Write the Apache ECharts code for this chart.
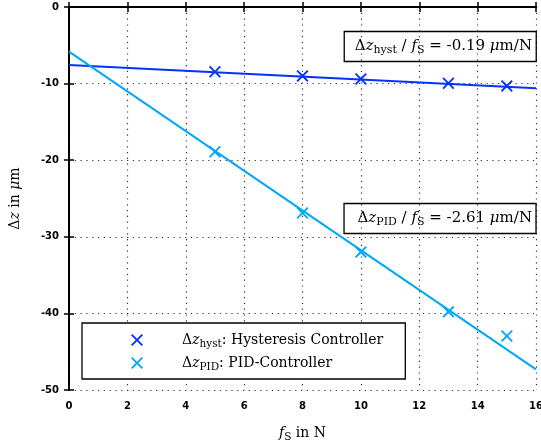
<!DOCTYPE html>
<html>
<head>
<meta charset="utf-8">
<script src="https://cdn.jsdelivr.net/npm/echarts@6/dist/echarts.min.js"></script>
<style>html,body{margin:0;padding:0;background:#fff;}#c{width:541px;height:444px;}</style>
</head>
<body>
<div id="c"></div>
<script>
// ---- data ----
var forceValues = [5, 8, 10, 13, 15];               // f_S in N
var hystValues  = [-8.45, -9.0, -9.4, -9.96, -10.3]; // Δz_hyst in µm
var pidValues   = [-18.9, -26.9, -32.0, -39.8, -42.95]; // Δz_PID in µm
var fitX        = [0, 16];
var hystFit     = [-7.57, -10.6];
var pidFit      = [-5.83, -47.3];
var hystSlope   = '-0.19';
var pidSlope    = '-2.61';

var COL_HYST = '#0033ff';
var COL_PID  = '#00a8f8';
var SERIF = '"DejaVu Serif", "Liberation Serif", serif';
var CROSS = 'path://M0,1.1L1.1,0L5,3.9L8.9,0L10,1.1L6.1,5L10,8.9L8.9,10L5,6.1L1.1,10L0,8.9L3.9,5Z';

function pairs(xs, ys) { return xs.map(function (x, i) { return [x, ys[i]]; }); }

function richSet(fs, subFs) {
  return {
    n:   { fontFamily: SERIF, fontSize: fs, fontWeight: 'normal', color: '#000', lineHeight: 20, verticalAlign: 'middle' },
    i:   { fontFamily: SERIF, fontSize: fs, fontWeight: 'normal', color: '#000', fontStyle: 'italic', lineHeight: 20, verticalAlign: 'middle' },
    sub: { fontFamily: SERIF, fontSize: subFs, fontWeight: 'normal', color: '#000', lineHeight: 10, verticalAlign: 'bottom' },
    sp:  { width: 34 }
  };
}

var chart = echarts.init(document.getElementById('c'), null, { renderer: 'canvas' });
var axisCommon = {
  type: 'value',
  axisLine: { show: true, lineStyle: { color: '#000', width: 2 } },
  axisTick: { show: true, inside: true, length: 5, lineStyle: { color: '#000', width: 1.5 } }
};
var labelStyle = { color: '#000', fontFamily: '"DejaVu Sans", sans-serif', fontSize: 10, fontWeight: 'bold' };
var gridLine = { show: true, lineStyle: { color: '#333', type: [1.2, 4.6], width: 1.2 } };

chart.setOption({
  animation: false,
  backgroundColor: '#fff',
  grid: { left: 69, right: 5, top: 7, bottom: 54, containLabel: false, outerBoundsMode: 'none' },
  title: [
    {
      text: '{n|Δ}{i|z}{sub|hyst}{n| / }{i|f}{sub|S}{n| = ' + hystSlope + ' }{i|μ}{n|m/N}',
      right: 5, top: 29,
      borderColor: '#000', borderWidth: 1.3,
      padding: [7, 4, 6, 11],
      textStyle: { fontWeight: 'normal', rich: richSet(15, 11) }
    },
    {
      text: '{n|Δ}{i|z}{sub|PID}{n| / }{i|f}{sub|S}{n| = ' + pidSlope + ' }{i|μ}{n|m/N}',
      right: 5, top: 201,
      borderColor: '#000', borderWidth: 1.3,
      padding: [7, 4, 6, 14],
      textStyle: { fontWeight: 'normal', rich: richSet(15, 11) }
    }
  ],
  legend: {
    orient: 'vertical',
    left: 82, top: 323,
    data: ['hyst', 'pid'],
    icon: CROSS,
    itemWidth: 12, itemHeight: 12,
    itemGap: 6,
    padding: [10, 22, 6, 49],
    borderColor: '#000', borderWidth: 1.3,
    backgroundColor: '#fff',
    formatter: function (name) {
      if (name === 'hyst') return '{sp| }{n|Δ}{i|z}{sub|hyst}{n|: Hysteresis Controller}';
      return '{sp| }{n|Δ}{i|z}{sub|PID}{n|: PID-Controller}';
    },
    textStyle: { rich: richSet(14, 10.5) }
  },
  xAxis: [
    Object.assign({}, axisCommon, {
      position: 'bottom', min: 0, max: 16, interval: 2,
      name: '{i|f}{sub|S}{n| in N}', nameLocation: 'middle', nameGap: 33,
      nameTextStyle: { rich: richSet(14, 10.5) },
      axisLabel: Object.assign({ margin: 11 }, labelStyle),
      splitLine: gridLine
    }),
    Object.assign({}, axisCommon, {
      position: 'top', min: 0, max: 16, interval: 2,
      axisLabel: { show: false }, splitLine: { show: false }
    })
  ],
  yAxis: [
    Object.assign({}, axisCommon, {
      position: 'left', min: -50, max: 0, interval: 10,
      name: '{n|Δ}{i|z}{n| in }{i|μ}{n|m}', nameLocation: 'middle', nameGap: 44, nameRotate: 90,
      nameTextStyle: { rich: richSet(14, 10.5) },
      axisLabel: Object.assign({ margin: 10 }, labelStyle),
      splitLine: gridLine
    }),
    Object.assign({}, axisCommon, {
      position: 'right', min: -50, max: 0, interval: 10,
      axisLabel: { show: false }, splitLine: { show: false }
    })
  ],
  series: [
    {
      name: 'hystFit', type: 'line', data: pairs(fitX, hystFit), symbol: 'none',
      lineStyle: { color: COL_HYST, width: 2 }, z: 2, silent: true
    },
    {
      name: 'pidFit', type: 'line', data: pairs(fitX, pidFit), symbol: 'none',
      lineStyle: { color: COL_PID, width: 2 }, z: 2, silent: true
    },
    {
      name: 'hyst', type: 'scatter', data: pairs(forceValues, hystValues),
      symbol: CROSS, symbolSize: 12, itemStyle: { color: COL_HYST, opacity: 1 }, z: 3
    },
    {
      name: 'pid', type: 'scatter', data: pairs(forceValues, pidValues),
      symbol: CROSS, symbolSize: 12, itemStyle: { color: COL_PID, opacity: 1 }, z: 3
    }
  ]
});
</script>
</body>
</html>
